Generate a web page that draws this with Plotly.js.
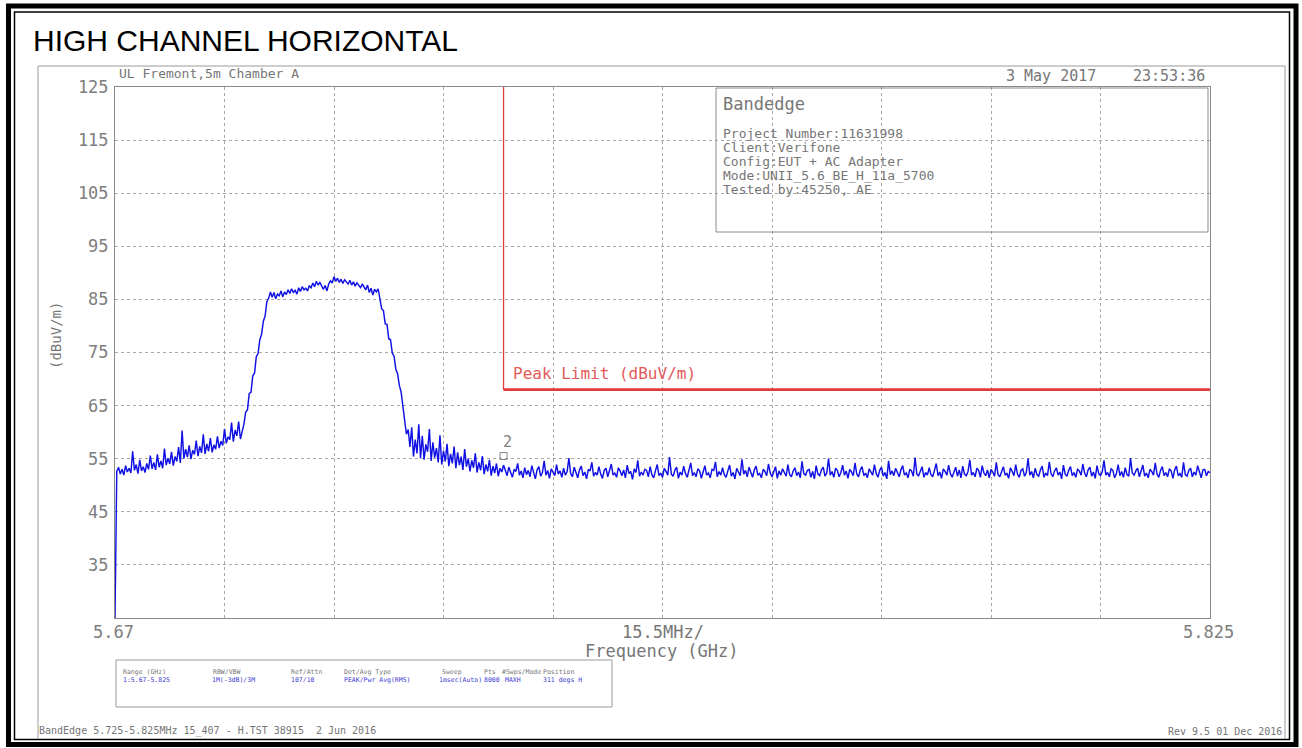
<!DOCTYPE html>
<html>
<head>
<meta charset="utf-8">
<script src="https://cdn.plot.ly/plotly-3.0.1.min.js"></script>
<style>
  html, body { margin: 0; padding: 0; background: #ffffff; }
  #chart { width: 1302px; height: 748px; }
</style>
</head>
<body>
<div id="chart"></div>
<script>
// ---------------- DATA ----------------
const chartTitle = "HIGH CHANNEL HORIZONTAL";
const startFreqGHz = 5.67;
const stopFreqGHz = 5.825;
const stepGHz = 0.00025;           // spacing of the values
const traceLevel = [
  25.0,
  // 5.670 - 5.688 GHz : skirt rising towards the channel
  52.6, 53.4, 52.1, 53.0, 51.9, 53.7, 52.5, 53.2, 52.3, 56.4, 52.8, 53.9, 52.2, 54.8, 52.7, 53.5, 52.4, 54.1, 53.0, 55.6,
  53.1, 54.3, 52.9, 55.8, 53.4, 54.6, 53.2, 56.9, 53.8, 55.1, 54.0, 56.3, 53.7, 55.4, 54.5, 57.2, 54.2, 60.3, 55.0, 56.8,
  55.3, 57.5, 54.9, 56.6, 55.8, 58.4, 55.5, 57.3, 56.1, 59.6, 55.9, 57.8, 56.4, 58.9, 56.2, 57.6, 56.8, 59.2, 57.0, 58.3,
  57.5, 60.6, 57.9, 59.1, 58.6, 61.8, 58.2, 60.4, 59.3, 62.0, 58.7, 60.1,
  // lower edge of the channel
  61.5, 63.8, 64.2, 67.3, 67.5, 70.6, 71.1, 74.2, 74.8, 77.4, 78.4, 80.9, 81.9, 84.6, 85.2, 86.4,
  // channel top
  85.4, 86.3, 85.1, 86.0, 85.7, 86.6, 85.5, 86.4, 85.9, 86.8, 86.1, 87.0, 86.3, 86.7, 86.0, 87.2, 86.5, 87.4, 86.8, 87.1,
  86.6, 87.6, 87.2, 88.1, 87.4, 88.4, 87.7, 88.2, 87.5, 86.9, 87.6, 86.6, 87.9, 88.5, 88.1, 89.3, 88.4, 89.0, 88.2, 88.8,
  88.0, 88.7, 88.3, 87.9, 88.6, 87.7, 88.3, 87.5, 88.1, 87.6, 87.2, 87.9, 87.4, 86.8, 87.7, 86.3, 87.1, 85.8, 86.9, 86.4, 87.0,
  // upper edge of the channel
  85.0, 83.2, 82.9, 80.4, 80.3, 77.6, 77.4, 74.9, 74.3, 71.9, 71.0, 68.8, 67.6, 64.9, 63.3, 59.6, 60.5,
  // skirt falling to the band edge
  57.2, 60.9, 55.4, 58.6, 56.0, 61.5, 55.1, 59.3, 54.8, 57.7, 56.3, 60.6, 54.6, 58.1, 55.2, 57.0, 54.3, 59.4, 53.9, 56.5,
  54.5, 57.8, 53.6, 55.9, 54.1, 57.3, 53.2, 56.2, 53.8, 55.4, 52.9, 56.8, 53.5, 55.0, 52.6, 54.7, 53.3, 56.0, 52.4, 54.3,
  52.8, 55.5, 52.1, 53.9, 52.6, 54.8, 51.8, 53.6, 52.3, 54.1, 51.7, 53.2, 52.5, 53.8,
  // 5.725 - 5.825 GHz : noise floor
  52.9, 51.8, 53.4, 52.2, 51.5, 53.0, 52.6, 54.1, 51.9, 52.7, 51.4, 53.3, 52.0, 52.8, 51.6, 53.7, 52.3, 51.2, 52.9, 53.5,
  51.7, 52.4, 54.6, 51.9, 52.8, 51.3, 53.1, 52.5, 51.8, 53.9, 52.1, 52.7, 51.5, 53.2, 51.9, 52.6, 55.1, 52.2, 51.6, 53.4,
  52.3, 51.4, 52.9, 53.6, 51.8, 52.5, 51.2, 53.0, 52.7, 54.3, 51.7, 52.4, 51.9, 53.5, 52.1, 51.3, 52.8, 53.2, 51.6, 52.6,
  54.0, 51.9, 52.3, 51.5, 53.3, 52.7, 51.8, 52.9, 51.4, 53.8, 52.2, 52.6, 51.1, 53.1, 52.4, 54.7, 51.7, 52.5, 51.9, 53.0,
  52.8, 51.6, 53.5, 52.0, 51.4, 52.7, 53.9, 51.8, 52.3, 51.5, 53.2, 52.6, 51.9, 55.3, 52.1, 51.7, 52.8, 53.4, 51.3, 52.5,
  51.9, 53.6, 52.2, 51.5, 52.9, 54.2, 51.8, 52.4, 51.6, 53.1, 52.7, 51.3, 52.5, 53.7, 51.9, 52.3, 51.4, 53.0, 52.8, 54.4,
  51.6, 52.6, 51.9, 53.3, 52.0, 51.5, 52.7, 53.8, 51.7, 52.4, 51.2, 53.2, 52.5, 51.8, 54.9, 52.1, 52.8, 51.6, 53.4, 52.3,
  51.5, 52.9, 53.6, 51.9, 52.2, 51.4, 53.0, 52.6, 51.8, 54.0, 52.3, 51.6, 52.8, 53.5, 51.3, 52.7, 51.9, 53.1, 52.4, 51.7,
  53.9, 52.0, 51.6, 52.7, 53.3, 51.8, 52.5, 51.4, 54.5, 52.2, 51.9, 52.8, 53.0, 51.5, 52.6, 51.2, 53.7, 52.1, 51.8, 52.9,
  53.4, 51.7, 52.3, 55.0, 51.9, 52.6, 51.5, 53.2, 52.8, 51.6, 52.4, 53.8, 51.9, 52.7, 51.3, 53.0, 52.5, 51.8, 54.2, 52.1,
  51.6, 52.9, 53.5, 51.8, 52.3, 51.4, 53.1, 52.6, 51.9, 53.9, 52.2, 51.5, 52.8, 53.4, 51.7, 52.4, 51.2, 54.6, 52.0, 52.7,
  51.8, 53.2, 52.5, 51.6, 52.9, 53.7, 51.9, 52.3, 51.4, 53.0, 52.7, 51.7, 55.2, 52.1, 51.8, 52.6, 53.5, 51.5, 52.4, 51.9,
  53.3, 52.0, 51.6, 52.8, 54.1, 51.8, 52.5, 51.3, 53.1, 52.6, 51.9, 53.8, 52.2, 51.5, 52.7, 53.4, 51.7, 52.9, 51.4, 53.6,
  52.1, 51.8, 52.6, 54.8, 51.9, 52.4, 51.6, 53.2, 52.8, 51.5, 53.7, 52.3, 51.8, 52.9, 51.4, 53.0, 52.5, 51.7, 54.3, 52.0,
  51.6, 52.7, 53.5, 51.9, 52.2, 51.3, 53.3, 52.6, 51.8, 53.9, 52.1, 51.5, 52.8, 53.1, 51.7, 52.4, 55.0, 51.9, 52.6, 51.4,
  53.2, 52.0, 51.7, 52.9, 53.6, 51.5, 52.3, 51.8, 54.4, 52.2, 51.6, 52.7, 53.3, 51.9, 52.5, 51.2, 53.8, 52.1, 51.7, 52.8,
  53.5, 51.8, 52.4, 51.5, 53.0, 52.7, 51.9, 54.0, 52.3, 51.6, 52.9, 53.4, 51.7, 52.5, 51.3, 53.7, 52.2, 51.8, 52.6, 54.7,
  51.9, 52.4, 51.6, 53.1, 52.8, 51.4, 52.2, 53.9, 51.8, 52.6, 51.5, 53.3, 52.0, 51.7, 55.1, 52.3, 51.9, 52.7, 53.2, 51.6,
  52.5, 53.8, 51.7, 52.3, 51.4, 53.0, 52.6, 51.9, 54.2, 52.1, 51.5, 52.8, 53.5, 51.8, 52.4, 51.6, 53.1, 52.7, 51.3, 52.9,
  53.6, 51.8, 52.2, 51.5, 54.3, 52.0, 51.7, 52.8, 53.2, 51.6, 52.5, 51.9, 53.7, 52.3, 51.4, 52.9, 53.0, 51.8, 52.6, 52.4
];
const limitFreq = [5.725, 5.825];
const limitLevel = 68;
const yMin = 25, yMax = 125;
const yTickVals = [35, 45, 55, 65, 75, 85, 95, 105, 115, 125];
const gridDivisions = 10;
const markerFreq = [5.725];
const markerLevel = [55.5];
const markerLabel = "2";
const limitLabel = "Peak Limit (dBuV/m)";
const yUnitLabel = "(dBuV/m)";
const xStartLabel = "5.67", xStopLabel = "5.825", spanLabel = "15.5MHz/";
const xTitle = "Frequency (GHz)";
const siteText = "UL Fremont,5m Chamber A";
const dateText = "3 May 2017", timeText = "23:53:36";
const boxTitle = "Bandedge";
const boxLines = ["Project Number:11631998", "Client:Verifone", "Config:EUT + AC Adapter",
                  "Mode:UNII_5.6_BE_H_11a_5700", "Tested by:45250, AE"];
const tableHeaders = ["Range (GHz)", "RBW/VBW", "Ref/Attn", "Det/Avg Type", "Sweep", "Pts", "#Swps/Mode", "Position"];
const tableValues  = ["1:5.67-5.825", "1M(-3dB)/3M", "107/10", "PEAK/Pwr Avg(RMS)", "1msec(Auto)", "8000", "MAXH", "311 degs H"];
const footerLeft = "BandEdge 5.725-5.825MHz 15_407 - H.TST 38915  2 Jun 2016";
const footerRight = "Rev 9.5 01 Dec 2016";

// ---------------- LAYOUT HELPERS ----------------
const W = 1302, H = 748, L = 115, R = 1210, T = 87, B = 618;
const px = x => (x - L) / (R - L);
const py = y => (B - y) / (B - T);
const MONO = "DejaVu Sans Mono, monospace";
const GREY = "#767676";

const gridStep = (stopFreqGHz - startFreqGHz) / gridDivisions;
const xGrid = [];
for (let k = 0; k <= gridDivisions; k++) xGrid.push(startFreqGHz + k * gridStep);

function txt(text, x, y, size, opts) {
  return Object.assign({
    text: text, xref: "paper", yref: "paper", x: px(x), y: py(y),
    showarrow: false, xanchor: "left", yanchor: "middle",
    font: { family: MONO, size: size, color: GREY }
  }, opts || {});
}

const annotations = [
  txt(chartTitle, 31, 41, 30, { font: { family: "Liberation Sans, Arial, sans-serif", size: 30, color: "#000" } }),
  txt(siteText, 117, 74, 13),
  txt(dateText, 1004, 76, 15),
  txt(timeText, 1207, 76, 15, { xanchor: "right" }),
  txt(boxTitle, 721, 104, 17),
  txt(yUnitLabel, 56, 336, 14, { xanchor: "center", textangle: -90 }),
  txt(xStartLabel, 113, 632, 17, { xanchor: "center", font: { family: MONO, size: 17, color: "#7e7e7e" } }),
  txt(xStopLabel, 1208, 632, 17, { xanchor: "center", font: { family: MONO, size: 17, color: "#7e7e7e" } }),
  txt(spanLabel, 663, 632, 17, { xanchor: "center" }),
  txt(xTitle, 662, 651, 17, { xanchor: "center" }),
  txt(limitLabel, 511, 373, 16, { font: { family: MONO, size: 16, color: "#e25a5a" } }),
  txt(footerLeft, 37, 731, 10),
  txt(footerRight, 1284, 731, 10, { xanchor: "right" })
];
boxLines.forEach((s, i) => annotations.push(txt(s, 721, 133 + i * 14.1, 13)));
const headerX = [121, 211, 289, 342, 440, 482, 500, 541];
const valueX  = [121, 210, 289, 342, 437, 482, 503, 541];
tableHeaders.forEach((s, i) => annotations.push(txt(s, headerX[i], 672, 6.5)));
tableValues.forEach((s, i) => annotations.push(txt(s, valueX[i], 680, 6.5, { font: { family: MONO, size: 6.5, color: "#3a3ad0" } })));
annotations.push({
  text: markerLabel, xref: "x", yref: "y", x: markerFreq[0], y: 58.2, showarrow: false,
  xanchor: "left", yanchor: "middle", xshift: -3, font: { family: MONO, size: 15, color: "#808080" }
});

function rectPx(x0, y0, x1, y1, color, width) {
  return { type: "rect", xref: "paper", yref: "paper", x0: px(x0), x1: px(x1), y0: py(y0), y1: py(y1),
           line: { color: color, width: width }, fillcolor: "rgba(0,0,0,0)", layer: "above" };
}
function linePx(x0, y0, x1, y1, color, width) {
  return { type: "line", xref: "paper", yref: "paper", x0: px(x0), x1: px(x1), y0: py(y0), y1: py(y1),
           line: { color: color, width: width }, layer: "above" };
}
const shapes = [
  rectPx(8.5, 6, 1296, 744.5, "#000", 5),
  rectPx(14.5, 12, 1289.5, 739.5, "#000", 1.5),
  linePx(38, 66, 1285, 66, "#9a9a9a", 1),
  linePx(38, 66, 38, 739, "#9a9a9a", 1),
  linePx(1285, 66, 1285, 739, "#9a9a9a", 1),
  rectPx(716, 88, 1208, 232, "#8a8a8a", 1),
  rectPx(116, 660, 612, 707, "#9a9a9a", 1)
];

// ---------------- TRACES ----------------
const traces = [
  {
    type: "scatter", mode: "lines", x0: startFreqGHz, dx: stepGHz, y: traceLevel,
    line: { color: "#1010e4", width: 1.45 }, hoverinfo: "skip"
  },
  {
    type: "scatter", mode: "lines", x: [limitFreq[0], limitFreq[0]], y: [yMax, limitLevel],
    line: { color: "#e03a3a", width: 1.3 }, hoverinfo: "skip"
  },
  {
    type: "scatter", mode: "lines", x: limitFreq, y: [limitLevel, limitLevel],
    line: { color: "#e03a3a", width: 2.6 }, hoverinfo: "skip"
  },
  {
    type: "scatter", mode: "markers", x: markerFreq, y: markerLevel,
    marker: { symbol: "square-open", size: 7, color: "#808080", line: { width: 1 } }, hoverinfo: "skip"
  }
];

const layout = {
  width: W, height: H,
  margin: { l: L, r: W - R, t: T, b: H - B },
  paper_bgcolor: "#ffffff", plot_bgcolor: "#ffffff",
  showlegend: false,
  xaxis: {
    range: [startFreqGHz, stopFreqGHz], tickvals: xGrid, showticklabels: false, ticks: "",
    showgrid: true, gridcolor: "#a8a8a8", griddash: "dot", gridwidth: 1,
    showline: true, mirror: true, linecolor: "#8a8a8a", linewidth: 1, zeroline: false, fixedrange: true
  },
  yaxis: {
    range: [yMin, yMax], tickvals: yTickVals, ticks: "", ticklabelstandoff: 2,
    tickfont: { family: MONO, size: 17, color: "#7e7e7e" },
    showgrid: true, gridcolor: "#a8a8a8", griddash: "dot", gridwidth: 1,
    showline: true, mirror: true, linecolor: "#8a8a8a", linewidth: 1, zeroline: false, fixedrange: true
  },
  annotations: annotations,
  shapes: shapes
};

Plotly.newPlot("chart", traces, layout, { staticPlot: true, displayModeBar: false });
</script>
</body>
</html>
